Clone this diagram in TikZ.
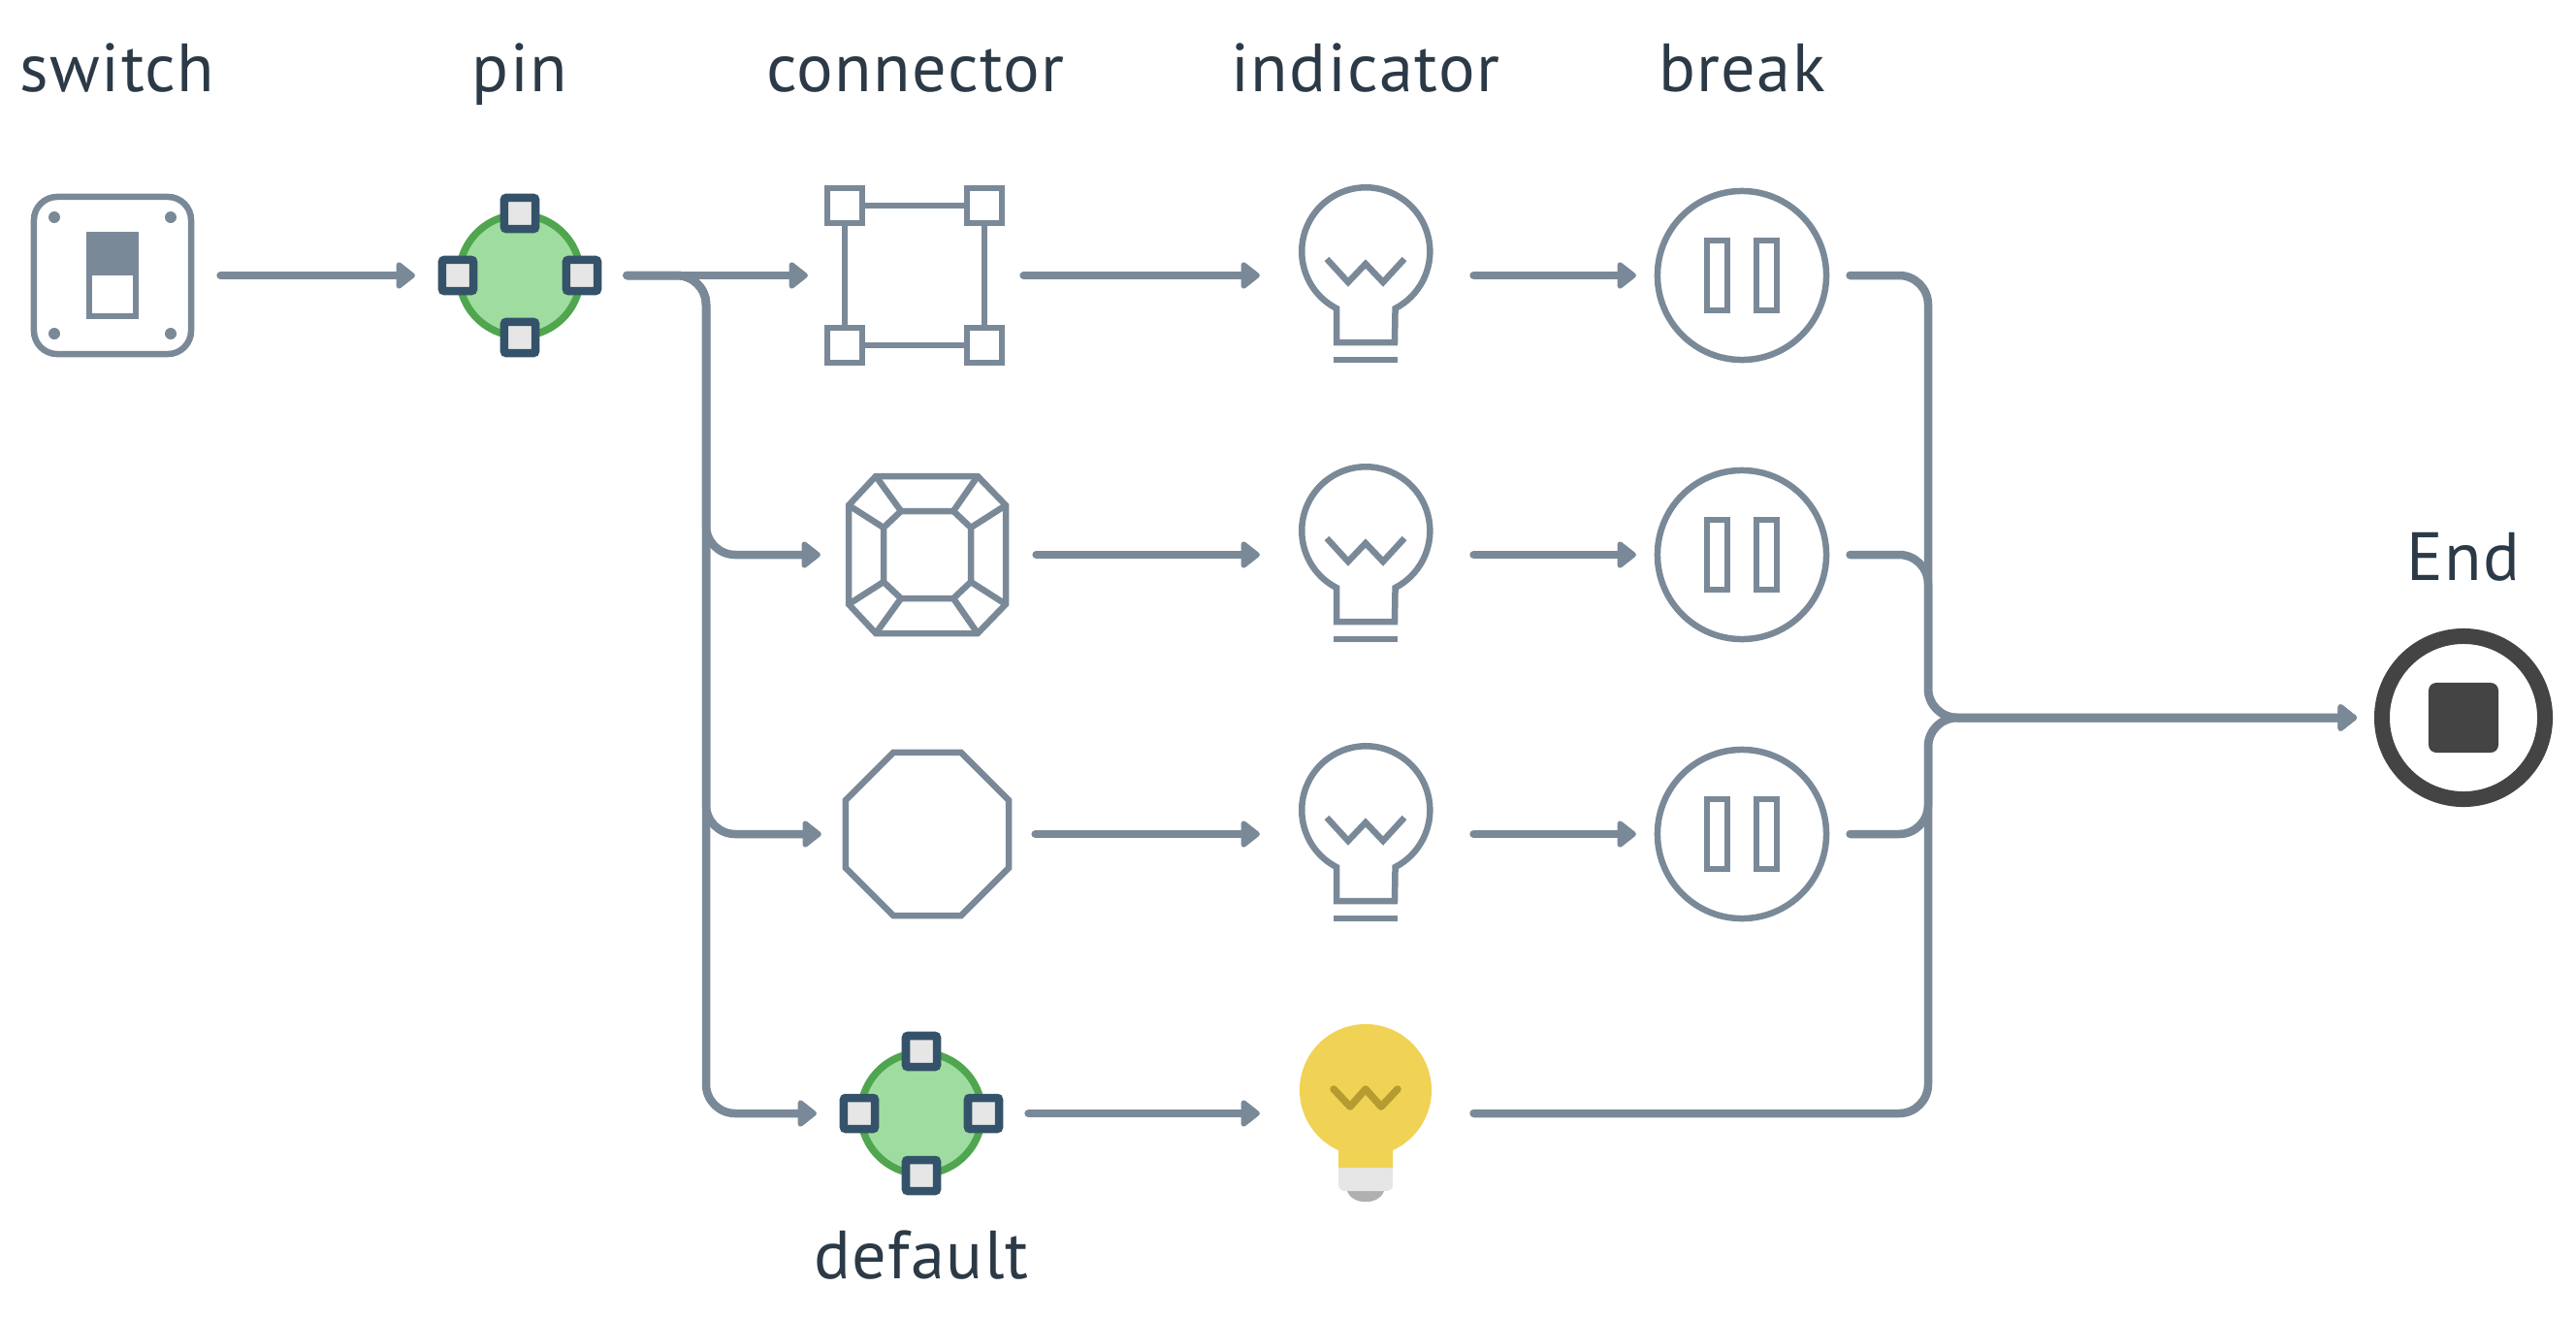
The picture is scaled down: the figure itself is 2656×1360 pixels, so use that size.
\documentclass[tikz,border=0pt]{standalone}
\usepackage{fontspec}
\setmainfont[LetterSpace=2]{PT Sans}
\usetikzlibrary{shapes.geometric, arrows.meta}
\definecolor{lineGrey}{HTML}{7A8998}
\definecolor{textNavy}{HTML}{2C3A47}
\definecolor{fillPin}{HTML}{9FDC9F}
\definecolor{borderPin}{HTML}{4FA64F}
\definecolor{borderPort}{HTML}{34536A}
\definecolor{fillPort}{HTML}{E6E6E6}
\definecolor{fillBulb}{HTML}{F0D255}
\definecolor{wireBulb}{HTML}{B59B30}
\definecolor{capBulb}{HTML}{B0B0B0}
\definecolor{darkEnd}{HTML}{444444}

\tikzset{
    greybulb/.pic={
        \draw[icon, line join=miter] (-30,34) arc[start angle=242.7, end angle=-62.7, radius=6.6mm] -- (30,69) -- (-30,69) -- cycle;
        \draw[icon] (-33,87) -- (33,87);
        \draw[icon, line join=miter] (-40,-17) -- (-18,7) -- (0,-12) -- (18,7) -- (40,-17);
    },
    litbulb/.pic={
        \fill[capBulb] (-19,80) .. controls (-14,95) and (14,95) .. (19,80) -- cycle;
        \fill[fillPort, rounded corners=0.6mm] (-28,50) -- (-28,80) -- (28,80) -- (28,50) -- cycle;
        \fill[fillBulb] (-28,38) arc[start angle=245.7, end angle=-65.7, radius=6.8mm] -- (28,56) -- (-28,56) -- cycle;
        \draw[wireBulb, line width=0.75mm, line cap=round, line join=round] (-33,-25) -- (-16,-7) -- (0,-25) -- (16,-7) -- (33,-25);
    }
}

\begin{document}
\begin{tikzpicture}[
    x=0.01cm, y=-0.01cm,
    icon/.style={draw=lineGrey, line width=0.65mm},
    myarrow/.style={draw=lineGrey, line width=0.85mm, line cap=round, rounded corners=3mm, shorten <=0.25mm, -{Triangle[length=6pt, width=9pt, round]}},
    label/.style={font=\fontsize{20}{24}\selectfont, text=textNavy, anchor=base, inner sep=0pt},
    slot/.style={rectangle, minimum width=#1, minimum height=#1, inner sep=0pt},
    pinball/.style={circle, fill=fillPin, draw=borderPin, line width=0.75mm, minimum size=12.5mm, inner sep=0pt},
    port/.style={rectangle, fill=fillPort, draw=borderPort, line width=0.85mm, minimum size=3.2mm, inner sep=0pt, rounded corners=0.2mm, outer sep=2.8mm},
    corner/.style={rectangle, fill=white, icon, minimum size=3.6mm, inner sep=0pt},
    breakring/.style={circle, icon, minimum size=17.4mm, inner sep=0pt, outer sep=2.2mm},
    breakbar/.style={rectangle, icon, minimum width=2.1mm, minimum height=7.2mm, inner sep=0pt}
]
    \useasboundingbox (0,0) rectangle (2656,1360);

    % ==========================================
    % 1. LABELS
    % ==========================================

    \node[label] (lblSwitch) at (121,94) {switch};
    \node[label] (lblPin) at (536,94) {pin};
    \node[label] (lblConnector) at (944,94) {connector};
    \node[label] (lblIndicator) at (1408,94) {indicator};
    \node[label] (lblBreak) at (1796,94) {break};
    \node[label] (lblEnd) at (2540,598) {End};
    \node[label] (lblDefault) at (950,1318) {default};

    % ==========================================
    % 2. TOP ROW
    % ==========================================

    \node[
        rectangle,
        icon,
        rounded corners=2.4mm,
        minimum size=16.2mm,
        inner sep=0pt,
        outer sep=2.8mm
    ] (switch) at (116,284) {};
    \fill[lineGrey] (56,224) circle (6) (176,224) circle (6) (56,344) circle (6) (176,344) circle (6);
    \fill[lineGrey] (89,239) rectangle (143,329);
    \fill[white] (95,284) rectangle (137,323);

    \node[pinball] (pin) at (536,284) {};
    \node[port] (pinN) at (536,220) {};
    \node[port] (pinW) at (472,284) {};
    \node[port] (pinE) at (600,284) {};
    \node[port] (pinS) at (536,348) {};

    \node[rectangle, icon, minimum size=14.4mm, inner sep=0pt, outer sep=3.8mm] (conn) at (943,284) {};
    \node[corner] (connNW) at (871,212) {};
    \node[corner] (connNE) at (1015,212) {};
    \node[corner] (connSW) at (871,356) {};
    \node[corner] (connSE) at (1015,356) {};

    \node[slot=13.8mm, outer sep=4mm] (bulbA) at (1408,284) {};
    \pic at (bulbA) {greybulb};

    \node[breakring] (breakA) at (1796,284) {};
    \node[breakbar] (barAL) at (1770.5,284) {};
    \node[breakbar] (barAR) at (1821.5,284) {};

    % ==========================================
    % 3. SECOND ROW
    % ==========================================

    \node[slot=16.2mm, outer sep=2.9mm] (gem) at (956,572) {};
    \draw[icon] (875,521) -- (903,491) -- (1008,491) -- (1037,521) -- (1037,623) -- (1008,653) -- (903,653) -- (875,623) -- cycle;
    \draw[icon] (929,527) -- (983,527) -- (1001,544) -- (1001,600) -- (983,617) -- (929,617) -- (911,600) -- (911,544) -- cycle;
    \draw[icon] (903,491) -- (929,527) (1008,491) -- (983,527) (1037,521) -- (1001,544) (1037,623) -- (1001,600);
    \draw[icon] (1008,653) -- (983,617) (903,653) -- (929,617) (875,623) -- (911,600) (875,521) -- (911,544);

    \node[slot=13.8mm, outer sep=4mm] (bulbB) at (1408,572) {};
    \pic at (bulbB) {greybulb};

    \node[breakring] (breakB) at (1796,572) {};
    \node[breakbar] (barBL) at (1770.5,572) {};
    \node[breakbar] (barBR) at (1821.5,572) {};

    % ==========================================
    % 4. THIRD ROW
    % ==========================================

    \node[regular polygon, regular polygon sides=8, icon, minimum size=18.2mm, inner sep=0pt, outer sep=2.5mm] (octa) at (956,860) {};

    \node[slot=13.8mm, outer sep=4mm] (bulbC) at (1408,860) {};
    \pic at (bulbC) {greybulb};

    \node[breakring] (breakC) at (1796,860) {};
    \node[breakbar] (barCL) at (1770.5,860) {};
    \node[breakbar] (barCR) at (1821.5,860) {};

    % ==========================================
    % 5. DEFAULT ROW AND END
    % ==========================================

    \node[pinball] (dflt) at (950,1148) {};
    \node[port] (dfltN) at (950,1084) {};
    \node[port] (dfltW) at (886,1148) {};
    \node[port] (dfltE) at (1014,1148) {};
    \node[port] (dfltS) at (950,1212) {};

    \node[slot=13.8mm, outer sep=4mm] (bulbD) at (1408,1148) {};
    \pic at (bulbD) {litbulb};

    \node[circle, draw=darkEnd, line width=1.6mm, minimum size=16.8mm, inner sep=0pt, outer sep=2.6mm] (endRing) at (2540,740) {};
    \node[rectangle, fill=darkEnd, rounded corners=0.8mm, minimum size=7.2mm, inner sep=0pt] (endStop) at (2540,740) {};

    % ==========================================
    % 6. CONNECTING ARROWS
    % ==========================================

    \coordinate (trunkB) at (728,572);
    \coordinate (trunkC) at (728,860);
    \coordinate (trunkD) at (728,1148);
    \coordinate (merge) at (1988,740);

    \draw[myarrow] (switch) -- (pinW.west);

    % --- Split after the pin ---
    \draw[myarrow] (pinE.east) -- (conn.west);
    \draw[myarrow] (pinE.east) -| (trunkB) -- (gem.west);
    \draw[myarrow] (pinE.east) -| (trunkC) -- (octa.west);
    \draw[myarrow] (pinE.east) -| (trunkD) -- (dfltW.west);

    % --- Horizontal flow ---
    \draw[myarrow] (conn.east) -- (bulbA.west);
    \draw[myarrow] (gem.east) -- (bulbB.west);
    \draw[myarrow] (octa.east) -- (bulbC.west);
    \draw[myarrow] (dfltE.east) -- (bulbD.west);
    \draw[myarrow] (bulbA.east) -- (breakA.west);
    \draw[myarrow] (bulbB.east) -- (breakB.west);
    \draw[myarrow] (bulbC.east) -- (breakC.west);

    % --- Merge into the end ---
    \draw[myarrow] (breakA.east) -| (merge) -- (endRing.west);
    \draw[myarrow] (breakB.east) -| (merge) -- (endRing.west);
    \draw[myarrow] (breakC.east) -| (merge) -- (endRing.west);
    \draw[myarrow] (bulbD.east) -| (merge) -- (endRing.west);

\end{tikzpicture}
\end{document}
